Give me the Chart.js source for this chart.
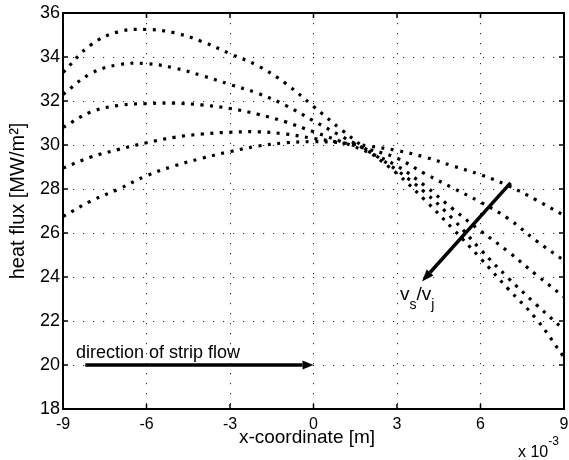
<!DOCTYPE html>
<html>
<head>
<meta charset="utf-8">
<script src="https://cdn.jsdelivr.net/npm/chart.js@4.4.1/dist/chart.umd.min.js"></script>
<style>
  html, body { margin: 0; padding: 0; background: #fff; }
  #wrap { width: 569px; height: 460px; }
</style>
</head>
<body>
<div id="wrap"><canvas id="myChart" width="569" height="460"></canvas></div>
<script>
// x positions (x 10^-3 m)
const xValues = [-9, -8, -7, -6, -5, -4, -3, -2, -1, 0, 1, 2, 3, 4, 5, 6, 7, 8, 9];

// heat flux [MW/m2], one list per velocity ratio
const fluxA = [33.3, 34.55, 35.15, 35.25, 35.1, 34.7, 34.15, 33.6, 32.8, 31.75, 30.7, 29.7, 28.7, 27.5, 26.2, 24.85, 23.45, 22.1, 20.35];
const fluxB = [32.3, 33.25, 33.65, 33.7, 33.5, 33.15, 32.75, 32.35, 31.8, 31.1, 30.4, 29.7, 28.85, 27.85, 26.65, 25.25, 23.95, 22.75, 21.6];
const fluxC = [30.8, 31.5, 31.8, 31.88, 31.9, 31.82, 31.66, 31.4, 31.05, 30.6, 30.15, 29.65, 29.05, 28.15, 27.1, 26.1, 25.15, 24.1, 23.1];
const fluxD = [28.95, 29.45, 29.8, 30.1, 30.35, 30.5, 30.58, 30.6, 30.5, 30.3, 30.1, 29.8, 29.4, 28.7, 28.05, 27.4, 26.65, 25.65, 24.75];
const fluxE = [26.75, 27.45, 28.0, 28.6, 29.05, 29.4, 29.7, 29.95, 30.1, 30.15, 30.1, 29.95, 29.75, 29.45, 29.05, 28.65, 28.15, 27.5, 26.8];

const xTicks = [-9, -6, -3, 0, 3, 6, 9];
const yTicks = [18, 20, 22, 24, 26, 28, 30, 32, 34, 36];

// annotation arrows, in data units
const flowArrow = [[-8.2, 20], [0, 20]];
const ratioArrow = [[7.08, 28.28], [3.9, 23.8]];

const FONT = "'Liberation Sans', Arial, Helvetica, sans-serif";

const toPoints = (ys) => xValues.map((x, i) => ({ x: x, y: ys[i] }));

const curveStyle = {
  borderColor: "#000",
  borderWidth: 3.2,
  borderDash: [3, 6.5],
  borderCapStyle: "butt",
  pointRadius: 0,
  tension: 0.4,
  fill: false,
};

function arrow(ctx, x0, y0, x1, y1, len, half) {
  const a = Math.atan2(y1 - y0, x1 - x0);
  const bx = x1 - len * Math.cos(a);
  const by = y1 - len * Math.sin(a);
  ctx.beginPath();
  ctx.moveTo(x0, y0);
  ctx.lineTo(bx, by);
  ctx.stroke();
  ctx.beginPath();
  ctx.moveTo(x1, y1);
  ctx.lineTo(bx + half * Math.sin(a), by - half * Math.cos(a));
  ctx.lineTo(bx - half * Math.sin(a), by + half * Math.cos(a));
  ctx.closePath();
  ctx.fill();
}

const framePlugin = {
  id: "frame",
  afterDatasetsDraw(chart) {
    const { ctx, chartArea: a, scales } = chart;
    const sx = scales.x, sy = scales.y;
    ctx.save();
    // box
    ctx.strokeStyle = "#000";
    ctx.lineWidth = 2;
    ctx.strokeRect(a.left, a.top, a.right - a.left, a.bottom - a.top);
    // inward ticks
    ctx.lineWidth = 1.5;
    ctx.beginPath();
    xTicks.forEach((v) => {
      const px = sx.getPixelForValue(v);
      ctx.moveTo(px, a.bottom); ctx.lineTo(px, a.bottom - 5);
      ctx.moveTo(px, a.top); ctx.lineTo(px, a.top + 5);
    });
    yTicks.forEach((v) => {
      const py = sy.getPixelForValue(v);
      ctx.moveTo(a.left, py); ctx.lineTo(a.left + 5, py);
      ctx.moveTo(a.right, py); ctx.lineTo(a.right - 5, py);
    });
    ctx.stroke();

    // arrows
    ctx.fillStyle = "#000";
    ctx.lineWidth = 3.5;
    ctx.lineCap = "butt";
    const p = (pt) => [sx.getPixelForValue(pt[0]), sy.getPixelForValue(pt[1])];
    let s = p(flowArrow[0]), e = p(flowArrow[1]);
    arrow(ctx, s[0], s[1], e[0], e[1], 11, 4.5);
    s = p(ratioArrow[0]); e = p(ratioArrow[1]);
    arrow(ctx, s[0], s[1], e[0], e[1], 12, 4.5);

    // texts
    ctx.fillStyle = "#000";
    ctx.textBaseline = "alphabetic";
    ctx.textAlign = "left";
    ctx.font = "18px " + FONT;
    ctx.fillText("direction of strip flow", 76, 358);

    let x = 400;
    const part = (t, size, base) => {
      ctx.font = size + "px " + FONT;
      ctx.fillText(t, x, base);
      x += ctx.measureText(t).width;
    };
    part("v", 19, 300);
    part("s", 14, 309);
    part("/", 19, 300);
    part("v", 19, 300);
    part("j", 14, 309);

    // axis titles
    ctx.font = "19px " + FONT;
    ctx.textAlign = "center";
    ctx.fillText("x-coordinate [m]", 307, 443);

    ctx.save();
    ctx.translate(18.5, 201);
    ctx.rotate(-Math.PI / 2);
    ctx.font = "20px " + FONT;
    ctx.textBaseline = "middle";
    ctx.fillText("heat flux [MW/m\u00B2]", 0, 0);
    ctx.restore();

    // exponent
    ctx.textAlign = "left";
    x = 518;
    part("x 10", 16, 457);
    part("-3", 12, 445);

    ctx.restore();
  },
};

const ctx = document.getElementById("myChart").getContext("2d");
const myChart = new Chart(ctx, {
  type: "line",
  data: {
    datasets: [
      { label: "A", data: toPoints(fluxA), ...curveStyle },
      { label: "B", data: toPoints(fluxB), ...curveStyle },
      { label: "C", data: toPoints(fluxC), ...curveStyle },
      { label: "D", data: toPoints(fluxD), ...curveStyle },
      { label: "E", data: toPoints(fluxE), ...curveStyle },
    ],
  },
  options: {
    responsive: false,
    animation: false,
    devicePixelRatio: 1,
    layout: { padding: { top: 13, right: 5, left: 0, bottom: 0 } },
    plugins: { legend: { display: false }, tooltip: { enabled: false } },
    scales: {
      x: {
        type: "linear",
        min: -9,
        max: 9,
        afterBuildTicks: (axis) => { axis.ticks = xTicks.map((v) => ({ value: v })); },
        afterFit: (axis) => { axis.height = 51; axis.paddingLeft = 0; axis.paddingRight = 0; },
        ticks: { color: "#000", font: { family: FONT, size: 16 }, padding: 6, maxRotation: 0, autoSkip: false },
        grid: { color: "rgba(0,0,0,0.85)", lineWidth: 1, drawTicks: false },
        border: { display: false, dash: [1.2, 8.8] },
      },
      y: {
        type: "linear",
        min: 18,
        max: 36,
        afterBuildTicks: (axis) => { axis.ticks = yTicks.map((v) => ({ value: v })); },
        afterFit: (axis) => { axis.width = 63; axis.paddingTop = 0; axis.paddingBottom = 0; },
        ticks: { color: "#000", font: { family: FONT, size: 18 }, padding: 3, autoSkip: false },
        grid: { color: "rgba(0,0,0,0.85)", lineWidth: 1, drawTicks: false },
        border: { display: false, dash: [1.2, 8.8] },
      },
    },
  },
  plugins: [framePlugin],
});
</script>
</body>
</html>
